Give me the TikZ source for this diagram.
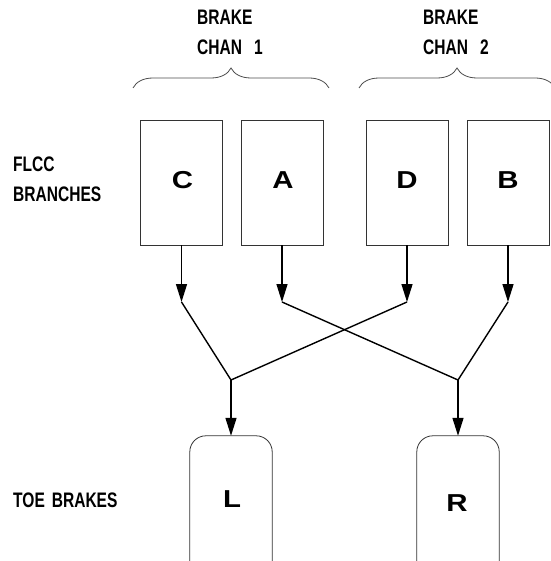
\documentclass[tikz,border=0pt]{standalone}
\usepackage{fontspec}
\setmainfont{Liberation Sans}
\newfontfamily\narrowfont[FakeStretch=0.74]{Liberation Sans Bold}
\newfontfamily\widefont[FakeStretch=1.2]{Liberation Sans Bold}
\usetikzlibrary{arrows.meta,decorations.pathreplacing}
\begin{document}
\begin{tikzpicture}[x=1pt,y=-1pt,
  lbl/.style={font=\narrowfont\fontsize{21}{25}\selectfont, anchor=base west, inner sep=0pt},
  branch/.style={draw=black!80, line width=0.8pt, minimum width=82pt, minimum height=125pt, inner sep=0pt},
  letter/.style={font=\widefont\fontsize{24.5}{28}\selectfont, inner sep=0pt},
  brake/.style={minimum width=82pt, minimum height=130pt, inner sep=0pt},
  brakeoutline/.style={draw=black!80, line width=0.8pt, rounded corners=16pt},
  flow/.style={line width=1.4pt, -{Triangle[length=18pt,width=11pt]}},
  link/.style={line width=1.4pt, line join=miter},
  brc/.style={draw=black!70, line width=0.8pt, decorate, decoration={brace, amplitude=20pt}}
]
\useasboundingbox (0,0) rectangle (550,561);

% labels
\node[lbl] (b1a) at (197,25) {BRAKE};
\node[lbl] (b1b) at (197,55) {CHAN\hspace{12pt}1};
\node[lbl] (b2a) at (423,25) {BRAKE};
\node[lbl] (b2b) at (423,55) {CHAN\hspace{12pt}2};
\node[lbl] (fl1) at (13,172) {FLCC};
\node[lbl] (fl2) at (13,201) {BRANCHES};
\node[lbl] (toe) at (13,507) {TOE\hspace{7pt}BRAKES};

% braces
\coordinate (br1s) at (133,88);
\coordinate (br1e) at (329,88);
\coordinate (br2s) at (359,88);
\coordinate (br2e) at (555,88);
\draw[brc] (br1s) -- (br1e);
\draw[brc] (br2s) -- (br2e);

% FLCC branch boxes
\node[branch] (C) at (181.5,182.5) {};
\node[branch] (A) at (282,182.5) {};
\node[branch] (D) at (407,182.5) {};
\node[branch] (B) at (508,182.5) {};
\node[letter] (Ct) at (182.5,180.5) {C};
\node[letter] (At) at (283,180.5) {A};
\node[letter] (Dt) at (407,180.5) {D};
\node[letter] (Bt) at (508,180.5) {B};

% toe brake boxes
\node[brake] (L) at (231,501) {};
\node[brake] (R) at (458,501) {};
\node[letter] (Lt) at (232,499) {L};
\node[letter] (Rt) at (457,503) {R};
\draw[brakeoutline] (L.south west) -- (L.north west) -- (L.north east) -- (L.south east);
\draw[brakeoutline] (R.south west) -- (R.north west) -- (R.north east) -- (R.south east);

% arrow tips and junctions
\coordinate (tC) at (181.5,302);
\coordinate (tA) at (282,302);
\coordinate (tD) at (407,302);
\coordinate (tB) at (508,302);
\coordinate (JL) at (231,380);
\coordinate (JR) at (458,380);

\draw[flow] (C.south) -- (tC);
\draw[flow] (A.south) -- (tA);
\draw[flow] (D.south) -- (tD);
\draw[flow] (B.south) -- (tB);

\draw[link] (tC) -- (JL) -- (tD);
\draw[link] (tA) -- (JR) -- (tB);

\draw[flow] (JL) -- (L.north);
\draw[flow] (JR) -- (R.north);
\end{tikzpicture}
\end{document}
